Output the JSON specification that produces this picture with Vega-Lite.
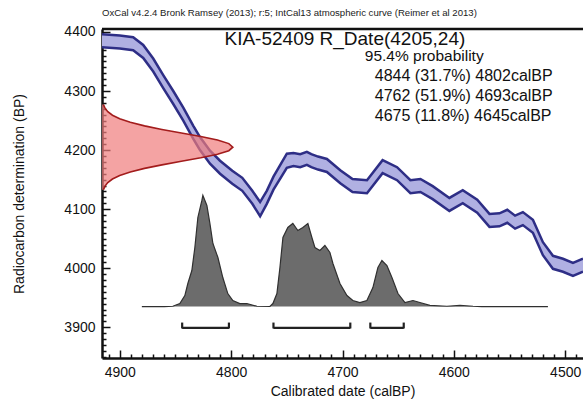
{
  "$schema": "https://vega.github.io/schema/vega-lite/v6.json",
  "width": 481,
  "height": 329,
  "autosize": {"type": "none"},
  "padding": {"left": 102, "top": 29, "right": 0, "bottom": 53},
  "background": "white",
  "config": {"view": {"stroke": null}, "font": "Liberation Sans"},
  "title": {"text": "OxCal v4.2.4 Bronk Ramsey (2013); r:5; IntCal13 atmospheric curve (Reimer et al 2013)", "anchor": "start", "frame": "group", "fontSize": 9.6, "fontWeight": "normal", "font": "Liberation Sans", "color": "#222", "offset": 7},
  "datasets": {
    "curve": [
      {"year":4916,"lo":4374,"hi":4396},
      {"year":4900,"lo":4372,"hi":4394},
      {"year":4888,"lo":4369,"hi":4391},
      {"year":4879,"lo":4356,"hi":4378},
      {"year":4870,"lo":4333,"hi":4355},
      {"year":4861,"lo":4305,"hi":4327},
      {"year":4852,"lo":4278,"hi":4300},
      {"year":4843,"lo":4250,"hi":4272},
      {"year":4834,"lo":4219,"hi":4241},
      {"year":4828,"lo":4200,"hi":4222},
      {"year":4819,"lo":4177,"hi":4199},
      {"year":4810,"lo":4160,"hi":4182},
      {"year":4799,"lo":4143,"hi":4165},
      {"year":4790,"lo":4131,"hi":4153},
      {"year":4781,"lo":4109,"hi":4131},
      {"year":4774,"lo":4088,"hi":4112},
      {"year":4768,"lo":4109,"hi":4131},
      {"year":4762,"lo":4133,"hi":4155},
      {"year":4750,"lo":4170,"hi":4194},
      {"year":4744,"lo":4173,"hi":4195},
      {"year":4738,"lo":4171,"hi":4193},
      {"year":4732,"lo":4175,"hi":4197},
      {"year":4728,"lo":4171,"hi":4193},
      {"year":4722,"lo":4167,"hi":4189},
      {"year":4714,"lo":4163,"hi":4185},
      {"year":4702,"lo":4144,"hi":4166},
      {"year":4691,"lo":4129,"hi":4151},
      {"year":4678,"lo":4127,"hi":4149},
      {"year":4664,"lo":4161,"hi":4183},
      {"year":4651,"lo":4149,"hi":4171},
      {"year":4639,"lo":4127,"hi":4149},
      {"year":4630,"lo":4129,"hi":4151},
      {"year":4619,"lo":4117,"hi":4139},
      {"year":4604,"lo":4097,"hi":4119},
      {"year":4592,"lo":4110,"hi":4132},
      {"year":4579,"lo":4094,"hi":4116},
      {"year":4568,"lo":4070,"hi":4092},
      {"year":4559,"lo":4071,"hi":4093},
      {"year":4552,"lo":4077,"hi":4099},
      {"year":4545,"lo":4067,"hi":4089},
      {"year":4538,"lo":4073,"hi":4095},
      {"year":4529,"lo":4060,"hi":4082},
      {"year":4520,"lo":4022,"hi":4044},
      {"year":4511,"lo":3999,"hi":4021},
      {"year":4502,"lo":3994,"hi":4016},
      {"year":4493,"lo":3987,"hi":4009},
      {"year":4484,"lo":3994,"hi":4016}
    ],
    "c14": [
      {"bp":4133,"x":4914.7},{"bp":4139,"x":4913.3},{"bp":4145,"x":4910.8},{"bp":4151,"x":4906.6},
      {"bp":4157,"x":4900.1},{"bp":4163,"x":4890.6},{"bp":4169,"x":4877.8},{"bp":4175,"x":4862.2},
      {"bp":4181,"x":4844.7},{"bp":4187,"x":4827.3},{"bp":4193,"x":4812.3},{"bp":4199,"x":4802.1},
      {"bp":4205,"x":4798.5},
      {"bp":4211,"x":4802.1},{"bp":4217,"x":4812.3},{"bp":4223,"x":4827.3},{"bp":4229,"x":4844.7},
      {"bp":4235,"x":4862.2},{"bp":4241,"x":4877.8},{"bp":4247,"x":4890.6},{"bp":4253,"x":4900.1},
      {"bp":4259,"x":4906.6},{"bp":4265,"x":4910.8},{"bp":4271,"x":4913.3},{"bp":4277,"x":4914.7}
    ],
    "cal": [
      {"year":4880.2,"p":3935.1},{"year":4860,"p":3935.1},{"year":4852.4,"p":3935.6},{"year":4846.1,"p":3940.2},
      {"year":4841.6,"p":3953.7},{"year":4838.9,"p":3974.1},{"year":4835.3,"p":3996.1},{"year":4832.6,"p":4035.1},
      {"year":4829.9,"p":4085.9},{"year":4826.3,"p":4114.7},{"year":4825.4,"p":4123.2},{"year":4821.8,"p":4106.3},
      {"year":4819.1,"p":4075.8},{"year":4816.4,"p":4041.9},{"year":4811.9,"p":4018.1},{"year":4807.5,"p":3984.2},
      {"year":4803,"p":3957.1},{"year":4798.5,"p":3945.3},{"year":4792.2,"p":3940.2},{"year":4785.9,"p":3940.2},
      {"year":4776.9,"p":3935.6},{"year":4765.2,"p":3935.2},{"year":4762.5,"p":3940.2},{"year":4758.9,"p":3957.1},
      {"year":4756.2,"p":4001.2},{"year":4753.5,"p":4052},{"year":4749.1,"p":4069},{"year":4744.6,"p":4075.8},
      {"year":4740.1,"p":4063.9},{"year":4735.6,"p":4069},{"year":4731.1,"p":4075.8},{"year":4727.5,"p":4052},
      {"year":4724.8,"p":4035.1},{"year":4720.3,"p":4030},{"year":4715.8,"p":4038.5},{"year":4711.3,"p":4026.6},
      {"year":4708.6,"p":4008},{"year":4702.3,"p":3974.1},{"year":4696,"p":3953.7},{"year":4690.7,"p":3945.3},
      {"year":4684.4,"p":3941.9},{"year":4678.1,"p":3945.3},{"year":4672.7,"p":3967.3},{"year":4668.2,"p":4001.2},
      {"year":4664.6,"p":4013.1},{"year":4660.1,"p":4004.6},{"year":4655.6,"p":3984.2},{"year":4650.2,"p":3957.1},
      {"year":4643.9,"p":3941.9},{"year":4636.7,"p":3945.3},{"year":4630.5,"p":3941.9},{"year":4621.5,"p":3937},
      {"year":4606.2,"p":3935.6},{"year":4594.5,"p":3937},{"year":4582.8,"p":3935.6},{"year":4575,"p":3935.1},
      {"year":4515.5,"p":3935.1}
    ],
    "ranges": [
      {"from":4844,"to":4802},
      {"from":4762,"to":4693},
      {"from":4675,"to":4645}
    ]
  },
  "layer": [
    {
      "data": {"name": "curve"},
      "mark": {"type": "area", "fill": "#b0b0e2", "fillOpacity": 1, "clip": true},
      "encoding": {
        "x": {"field": "year", "type": "quantitative",
          "scale": {"domain": [4484, 4916], "reverse": true, "nice": false, "zero": false},
          "axis": {
            "title": "Calibrated date (calBP)",
            "values": [4490,4500,4510,4520,4530,4540,4550,4560,4570,4580,4590,4600,4610,4620,4630,4640,4650,4660,4670,4680,4690,4700,4710,4720,4730,4740,4750,4760,4770,4780,4790,4800,4810,4820,4830,4840,4850,4860,4870,4880,4890,4900,4910],
            "tickCount": 200,
            "format": "d",
            "labelExpr": "datum.value % 100 === 0 ? datum.label : ''",
            "tickSize": {"condition": {"test": "datum.value % 100 === 0", "value": -8}, "value": -4},
            "tickColor": "#111", "tickWidth": 1.5,
            "domainColor": "#111", "domainWidth": 2.5,
            "labelFontSize": 14, "labelColor": "#111", "labelPadding": 15,
            "labelFlush": false, "labelOverlap": false,
            "titleFontSize": 14, "titleFontWeight": "normal", "titleColor": "#111", "titlePadding": 1,
            "grid": false
          }
        },
        "y": {"field": "lo", "type": "quantitative",
          "scale": {"domain": [3848, 4405], "nice": false, "zero": false},
          "axis": {
            "title": "Radiocarbon determination (BP)",
            "values": [3850,3860,3870,3880,3890,3900,3910,3920,3930,3940,3950,3960,3970,3980,3990,4000,4010,4020,4030,4040,4050,4060,4070,4080,4090,4100,4110,4120,4130,4140,4150,4160,4170,4180,4190,4200,4210,4220,4230,4240,4250,4260,4270,4280,4290,4300,4310,4320,4330,4340,4350,4360,4370,4380,4390,4400],
            "tickCount": 200,
            "format": "d",
            "labelExpr": "datum.value % 100 === 0 ? datum.label : ''",
            "tickSize": {"condition": {"test": "datum.value % 100 === 0", "value": -8}, "value": -4},
            "tickColor": "#111", "tickWidth": 1.5,
            "domainColor": "#111", "domainWidth": 2.5,
            "labelFontSize": 14, "labelColor": "#111", "labelPadding": 15,
            "labelFlush": false, "labelOverlap": false,
            "titleFontSize": 14, "titleFontWeight": "normal", "titleColor": "#111", "titlePadding": 37,
            "grid": false
          }
        },
        "y2": {"field": "hi"}
      }
    },
    {
      "data": {"name": "curve"},
      "mark": {"type": "line", "color": "#2e2e86", "strokeWidth": 2.5, "clip": true},
      "encoding": {
        "x": {"field": "year", "type": "quantitative"},
        "y": {"field": "hi", "type": "quantitative"}
      }
    },
    {
      "data": {"name": "curve"},
      "mark": {"type": "line", "color": "#2e2e86", "strokeWidth": 2.5, "clip": true},
      "encoding": {
        "x": {"field": "year", "type": "quantitative"},
        "y": {"field": "lo", "type": "quantitative"}
      }
    },
    {
      "data": {"name": "c14"},
      "mark": {"type": "area", "orient": "horizontal", "fill": "#ef7c7c", "fillOpacity": 0.7},
      "encoding": {
        "y": {"field": "bp", "type": "quantitative"},
        "x": {"field": "x", "type": "quantitative"},
        "x2": {"datum": 4916}
      }
    },
    {
      "data": {"name": "c14"},
      "mark": {"type": "line", "color": "#a31c1c", "strokeWidth": 1.6},
      "encoding": {
        "y": {"field": "bp", "type": "quantitative"},
        "x": {"field": "x", "type": "quantitative"},
        "order": {"field": "bp", "type": "quantitative"}
      }
    },
    {
      "data": {"name": "cal"},
      "mark": {"type": "area", "fill": "#6c6c6c", "fillOpacity": 1, "line": {"color": "#303030", "strokeWidth": 1.2}},
      "encoding": {
        "x": {"field": "year", "type": "quantitative"},
        "y": {"field": "p", "type": "quantitative"},
        "y2": {"datum": 3935.1}
      }
    },
    {
      "data": {"name": "ranges"},
      "mark": {"type": "rule", "color": "#222", "strokeWidth": 2.2},
      "encoding": {
        "x": {"field": "from", "type": "quantitative"},
        "x2": {"field": "to"},
        "y": {"datum": 3899}
      }
    },
    {
      "data": {"name": "ranges"},
      "mark": {"type": "rule", "color": "#222", "strokeWidth": 2.2},
      "encoding": {
        "x": {"field": "from", "type": "quantitative"},
        "y": {"datum": 3898},
        "y2": {"datum": 3908}
      }
    },
    {
      "data": {"name": "ranges"},
      "mark": {"type": "rule", "color": "#222", "strokeWidth": 2.2},
      "encoding": {
        "x": {"field": "to", "type": "quantitative"},
        "y": {"datum": 3898},
        "y2": {"datum": 3908}
      }
    },
    {
      "data": {"values": [{}]},
      "mark": {"type": "rule", "color": "#111", "strokeWidth": 2.5},
      "encoding": {
        "x": {"datum": 4916, "type": "quantitative"},
        "x2": {"datum": 4484},
        "y": {"datum": 4405, "type": "quantitative"}
      }
    },
    {
      "data": {"values": [{}]},
      "mark": {"type": "text", "align": "left", "baseline": "alphabetic", "fontSize": 19, "font": "Liberation Sans", "color": "#111"},
      "encoding": {
        "x": {"datum": 4806, "type": "quantitative"},
        "y": {"datum": 4378, "type": "quantitative"},
        "text": {"value": "KIA-52409 R_Date(4205,24)"}
      }
    },
    {
      "data": {"values": [{}]},
      "mark": {"type": "text", "align": "left", "baseline": "alphabetic", "fontSize": 15.5, "font": "Liberation Sans", "color": "#111"},
      "encoding": {
        "x": {"datum": 4680, "type": "quantitative"},
        "y": {"datum": 4350, "type": "quantitative"},
        "text": {"value": "95.4% probability"}
      }
    },
    {
      "data": {"values": [{}]},
      "mark": {"type": "text", "align": "left", "baseline": "alphabetic", "fontSize": 16, "lineHeight": 20, "font": "Liberation Sans", "color": "#111"},
      "encoding": {
        "x": {"datum": 4671, "type": "quantitative"},
        "y": {"datum": 4317, "type": "quantitative"},
        "text": {"value": ["4844 (31.7%) 4802calBP", "4762 (51.9%) 4693calBP", "4675 (11.8%) 4645calBP"]}
      }
    }
  ]
}
